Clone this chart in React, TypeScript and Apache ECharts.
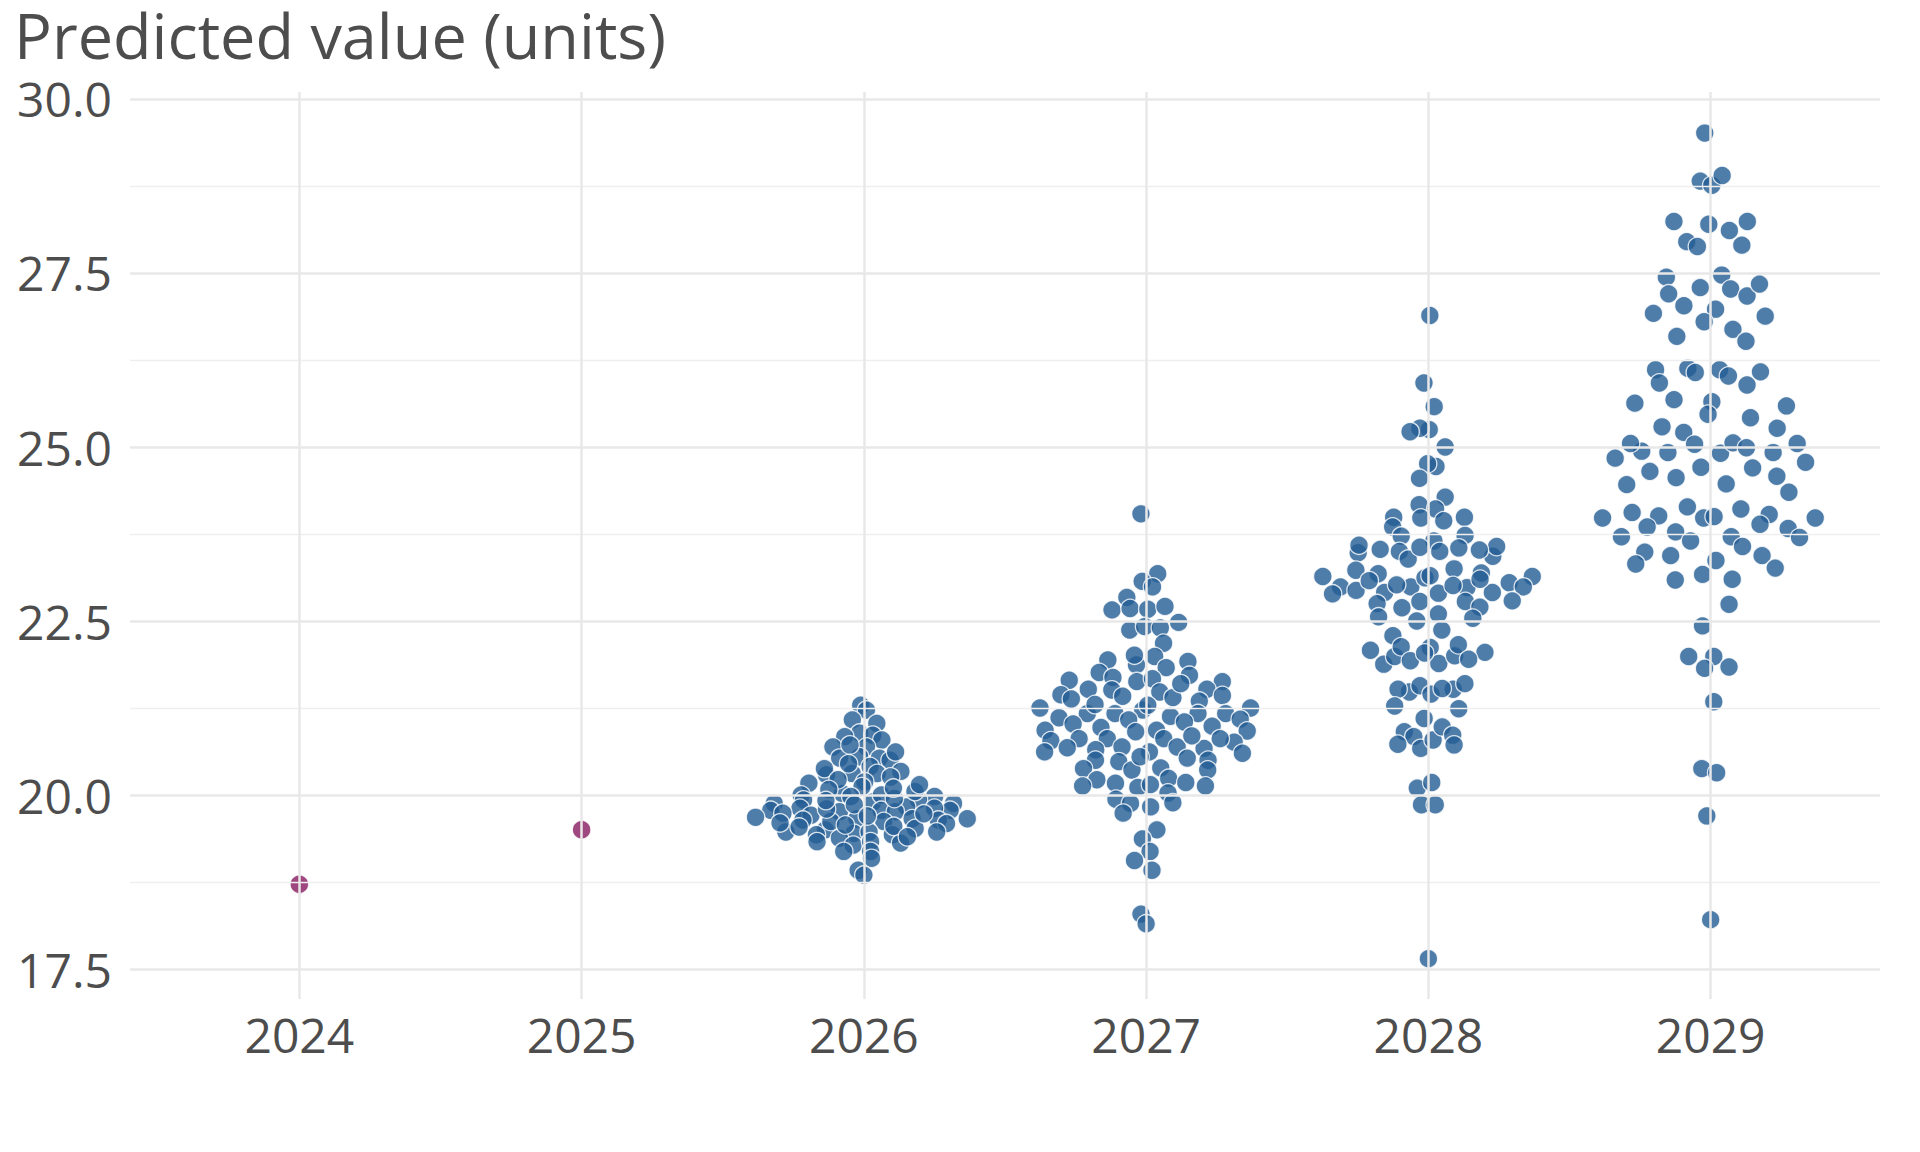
import React, { useEffect, useRef } from "react";
import * as echarts from "echarts";

const titleText = "Predicted value (units)";
const xTickLabels = [2024, 2025, 2026, 2027, 2028, 2029];
const yTickLabels = [17.5, 20, 22.5, 25, 27.5, 30];
const yMinorGrid = [18.75, 21.25, 23.75, 26.25, 28.75];

const observedYears = [2024, 2025];
const observedValues = [18.72, 19.5];

const predicted2026 = [
  21.29, 21.22, 21.08, 21.03, 20.89, 20.86, 20.84, 20.79, 20.69, 20.69,
  20.55, 20.53, 20.53, 20.5, 20.34, 20.41, 20.31, 20.31, 20.19, 20.26,
  20.17, 20.12, 20.29, 20.02, 20.0, 19.9, 19.98, 19.88, 19.98, 19.93,
  19.88, 19.93, 20.0, 19.78, 19.78, 19.78, 19.81, 19.81, 19.83, 19.76,
  19.66, 19.71, 19.76, 19.66, 19.66, 19.64, 19.64, 19.62, 19.59, 19.47,
  19.5, 19.47, 19.52, 19.43, 19.43, 19.45, 19.47, 19.33, 19.38, 19.31,
  19.28, 19.33, 19.62, 19.19, 19.19, 19.09, 18.92, 18.85, 20.45, 20.38,
  20.22, 20.08, 20.05, 19.95, 19.86, 19.74, 19.7, 19.68, 19.57, 19.55,
  19.73, 19.8, 19.92, 20.1, 20.15, 19.6, 19.54, 19.4, 20.62, 20.72,
];

const predicted2027 = [
  24.04, 23.18, 23.07, 22.99, 22.84, 22.66, 22.68, 22.67, 22.71, 22.37,
  22.42, 22.4, 22.48, 22.18, 21.94, 21.87, 22.01, 21.99, 21.92, 21.83,
  21.76, 21.65, 21.63, 21.69, 21.67, 21.63, 21.72, 21.52, 21.52, 21.44,
  21.48, 21.4, 21.51, 21.42, 21.43, 21.38, 21.35, 21.22, 21.25, 21.25,
  21.29, 21.17, 21.08, 21.17, 21.11, 21.17, 21.09, 21.17, 21.13, 20.97,
  21.02, 20.93, 20.99, 20.92, 21.05, 20.93, 20.81, 20.91, 20.81, 20.76,
  20.81, 20.81, 20.78, 20.62, 20.68, 20.67, 20.6, 20.65, 20.69, 20.69,
  20.62, 20.5, 20.53, 20.5, 20.39, 20.48, 20.36, 20.38, 20.36, 20.13,
  20.22, 20.17, 20.24, 20.18, 20.13, 20.11, 20.15, 19.94, 20.03, 19.89,
  19.88, 19.83, 19.74, 19.5, 19.37, 19.19, 19.06, 18.92, 18.29, 18.15,
  20.85, 21.3, 20.55, 21.6,
];

const predicted2028 = [
  26.89, 25.92, 25.58, 25.25, 25.27, 25.22, 25.0, 24.72, 24.76, 24.55,
  24.28, 24.17, 24.11, 23.94, 23.99, 23.98, 23.99, 23.85, 23.73, 23.72,
  23.65, 23.5, 23.55, 23.5, 23.43, 23.57, 23.52, 23.39, 23.56, 23.53,
  23.48, 23.59, 23.14, 23.25, 22.99, 22.9, 22.98, 23.12, 23.19, 22.91,
  23.05, 22.99, 23.14, 23.18, 22.91, 23.02, 22.99, 23.23, 23.1, 22.94,
  23.08, 23.15, 23.01, 22.89, 22.78, 22.6, 22.7, 22.79, 22.54, 22.69,
  22.5, 22.78, 22.75, 22.56, 22.29, 22.37, 22.08, 21.88, 21.99, 22.13,
  21.93, 22.05, 22.12, 21.89, 22.0, 22.16, 21.95, 22.04, 21.52, 21.48,
  21.57, 21.45, 21.53, 21.52, 21.6, 21.28, 21.24, 21.1, 20.91, 20.84,
  20.73, 20.67, 20.79, 20.98, 20.86, 20.72, 20.1, 20.18, 19.86, 19.86,
  17.65,
];

const predicted2029 = [
  29.51, 28.82, 28.76, 28.9, 28.24, 28.2, 28.11, 28.24, 27.95, 27.88,
  27.9, 27.44, 27.47, 27.2, 27.29, 27.27, 27.17, 27.34, 26.92, 27.03,
  26.98, 26.8, 26.88, 26.59, 26.69, 26.52, 26.11, 25.92, 26.13, 26.07,
  26.11, 26.02, 25.89, 26.08, 25.63, 25.68, 25.65, 25.47, 25.42, 25.59,
  25.29, 25.21, 25.04, 25.27, 25.05, 24.94, 24.84, 24.92, 24.91, 25.06,
  24.99, 24.92, 25.05, 24.78, 24.65, 24.56, 24.71, 24.7, 24.58, 24.46,
  24.47, 24.35, 23.98, 24.06, 24.01, 24.14, 23.98, 24.0, 24.11, 24.03,
  23.89, 23.98, 23.85, 23.71, 23.83, 23.78, 23.65, 23.71, 23.57, 23.7,
  23.49, 23.32, 23.44, 23.37, 23.44, 23.26, 23.1, 23.17, 23.09, 22.74,
  22.43, 21.99, 21.99, 21.82, 21.84, 21.34, 20.38, 20.32, 19.7, 18.21,
];

const predictedYears = [2026, 2027, 2028, 2029];
const predictedGroups = [predicted2026, predicted2027, predicted2028, predicted2029];

// ---- quasirandom (vipor-like) horizontal layout ----
function vanDerCorput(n: number): number[] {
  const out: number[] = [];
  for (let i = 1; i <= n; i++) {
    let x = 0;
    let f = 0.5;
    let k = i;
    while (k > 0) {
      x += f * (k & 1);
      k >>= 1;
      f /= 2;
    }
    out.push(x);
  }
  return out;
}

function quantile(sorted: number[], p: number): number {
  const h = (sorted.length - 1) * p;
  const lo = Math.floor(h);
  const hi = Math.ceil(h);
  return sorted[lo] + (sorted[hi] - sorted[lo]) * (h - lo);
}

function bwNrd0(v: number[]): number {
  const n = v.length;
  const mean = v.reduce((a, b) => a + b, 0) / n;
  const sd = Math.sqrt(v.reduce((a, b) => a + (b - mean) ** 2, 0) / (n - 1));
  const s = [...v].sort((a, b) => a - b);
  const iqr = quantile(s, 0.75) - quantile(s, 0.25);
  let lo = Math.min(sd, iqr / 1.34);
  if (!lo) lo = sd || 1;
  return 0.9 * lo * Math.pow(n, -0.2);
}

function quasirandomOffsets(values: number[], width: number, adjust: number): number[] {
  const n = values.length;
  if (n < 2) return values.map(() => 0);
  const bw = bwNrd0(values) * adjust;
  const dens = values.map((y) =>
    values.reduce((acc, yi) => acc + Math.exp(-0.5 * ((y - yi) / bw) ** 2), 0)
  );
  const maxD = Math.max(...dens);
  const order = values.map((_, i) => i).sort((a, b) => values[a] - values[b] || a - b);
  const vdc = vanDerCorput(n);
  const out = new Array(n).fill(0);
  order.forEach((idx, rank) => {
    out[idx] = (vdc[rank] * 2 - 1) * width * (dens[idx] / maxD);
  });
  return out;
}

export default function App() {
  const ref = useRef<HTMLDivElement>(null);

  useEffect(() => {
    if (!ref.current) return;
    const chart = echarts.init(ref.current, null, { renderer: "svg" });

    const predictedData: number[][] = [];
    predictedGroups.forEach((vals, g) => {
      const offs = quasirandomOffsets(vals, 0.4, 0.5);
      vals.forEach((v, i) => predictedData.push([predictedYears[g] + offs[i], v]));
    });
    const observedData = observedYears.map((yr, i) => [yr, observedValues[i]]);

    const textColor = "#4d4d4d";
    const font = "'Open Sans', 'Noto Sans', sans-serif";

    const gridLines: any[] = [
      ...yTickLabels.map((v) => ({
        yAxis: v,
        lineStyle: { color: "#e8e8e8", width: 2.5, type: "solid" },
      })),
      ...yMinorGrid.map((v) => ({
        yAxis: v,
        lineStyle: { color: "#efefef", width: 1.3, type: "solid" },
      })),
      ...xTickLabels.map((v) => ({
        xAxis: v,
        lineStyle: { color: "#e8e8e8", width: 2.5, type: "solid" },
      })),
    ];

    chart.setOption({
      animation: false,
      backgroundColor: "#ffffff",
      title: {
        text: titleText,
        left: 14,
        top: 3,
        padding: 0,
        textStyle: {
          fontFamily: font,
          fontSize: 63,
          fontWeight: "normal",
          color: textColor,
        },
      },
      grid: { left: 130, right: 40, top: 92, bottom: 153, containLabel: false },
      xAxis: {
        type: "value",
        min: 2023.4,
        max: 2029.6,
        axisLine: { show: false },
        axisTick: { show: false, customValues: xTickLabels },
        splitLine: { show: false },
        axisLabel: {
          customValues: xTickLabels,
          formatter: (v: number) => String(Math.round(v)),
          fontSize: 48,
          fontFamily: font,
          color: textColor,
          margin: 11,
        },
      },
      yAxis: {
        type: "value",
        min: 17.07,
        max: 30.1,
        axisLine: { show: false },
        axisTick: { show: false, customValues: yTickLabels },
        splitLine: { show: false },
        axisLabel: {
          customValues: yTickLabels,
          formatter: (v: number) => v.toFixed(1),
          fontSize: 48,
          fontFamily: font,
          color: textColor,
          margin: 18,
        },
      },
      series: [
        {
          type: "scatter",
          name: "grid",
          z: 1,
          silent: true,
          symbolSize: 0,
          data: [[2024, 17.5]],
          itemStyle: { opacity: 0 },
          markLine: {
            silent: true,
            symbol: ["none", "none"],
            label: { show: false },
            emphasis: { disabled: true },
            animation: false,
            data: gridLines,
          },
        },
        {
          type: "scatter",
          name: "Observed",
          z: 3,
          symbolSize: 18.5,
          data: observedData,
          itemStyle: {
            color: "#87195f",
            opacity: 0.8,
            borderColor: "#ffffff",
            borderWidth: 1.2,
          },
        },
        {
          type: "scatter",
          name: "Predicted",
          z: 3,
          symbolSize: 18.5,
          data: predictedData,
          itemStyle: {
            color: "#235c93",
            opacity: 0.8,
            borderColor: "#ffffff",
            borderWidth: 1.3,
          },
        },
      ],
    });

    return () => chart.dispose();
  }, []);

  return (
    <div
      ref={ref}
      style={{ position: "absolute", left: 0, top: 0, width: 1920, height: 1152 }}
    />
  );
}
